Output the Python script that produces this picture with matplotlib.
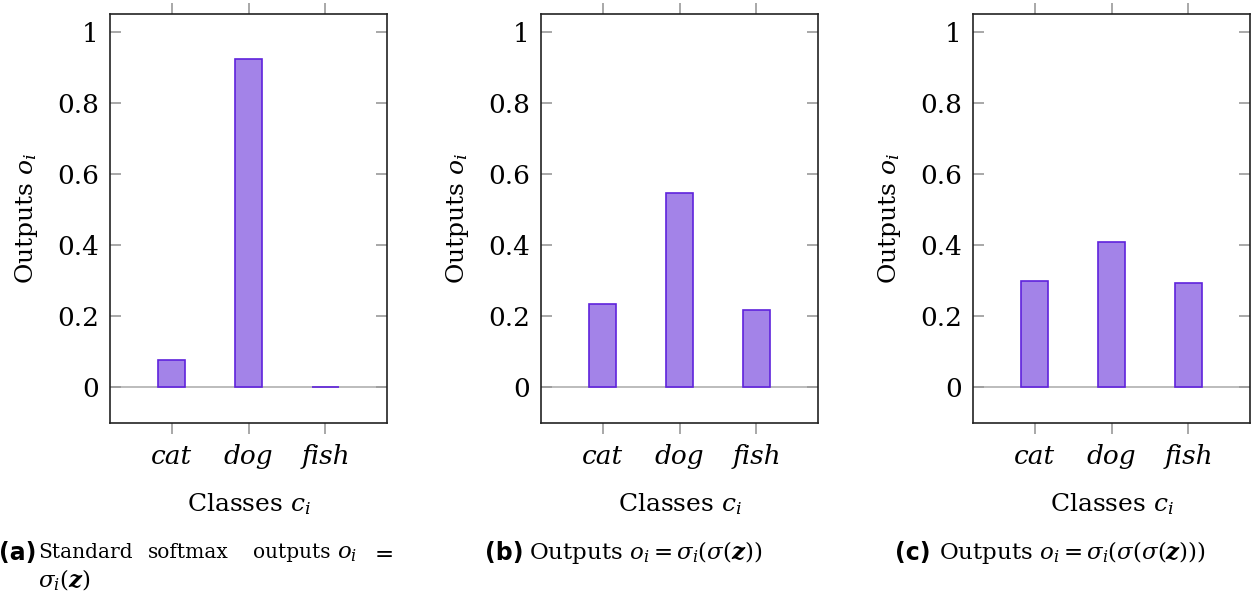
import matplotlib.pyplot as plt

plt.rcParams["font.family"] = "DejaVu Serif"
plt.rcParams["mathtext.fontset"] = "dejavuserif"

# Data
classes = ["cat", "dog", "fish"]
softmax_a = [0.076, 0.924, 0.001]
softmax_b = [0.236, 0.548, 0.219]
softmax_c = [0.298, 0.410, 0.293]
yticks = [0, 0.2, 0.4, 0.6, 0.8, 1]
ytick_labels = ["0", "0.2", "0.4", "0.6", "0.8", "1"]

fill_col = "#a383e8"
edge_col = "#5f22dc"
tick_col = "#9a9a9a"

fig = plt.figure(figsize=(12.56, 6.04), dpi=100)

lefts = [110 / 1256, 541 / 1256, 973 / 1256]
w = 277 / 1256
bottom = 1 - 423 / 604
h = 409 / 604

for left, vals in zip(lefts, [softmax_a, softmax_b, softmax_c]):
    ax = fig.add_axes([left, bottom, w, h])
    x = list(range(len(classes)))
    ax.axhline(0, color="#b0b0b0", lw=1.2, zorder=1)
    ax.bar(x, vals, width=0.36, color=fill_col, edgecolor=edge_col, lw=1.2, zorder=2)
    ax.set_xlim(-0.8, 2.8)
    ax.set_ylim(-0.1, 1.05)
    ax.set_xticks(x)
    ax.set_xticklabels(classes, style="italic", fontsize=19)
    ax.set_yticks(yticks)
    ax.set_yticklabels(ytick_labels, fontsize=19)
    ax.tick_params(axis="y", direction="in", length=8, width=1.2, color=tick_col,
                   left=True, right=True, pad=8)
    ax.tick_params(axis="x", direction="out", length=8, width=1.2, color=tick_col,
                   top=True, bottom=True, pad=7)
    for s in ax.spines.values():
        s.set_linewidth(1.2)
        s.set_color("#222222")
    ax.set_xlabel("Classes $c_i$", fontsize=18, labelpad=16)
    ax.set_ylabel("Outputs $o_i$", fontsize=18, labelpad=12)

# Captions
y1 = 1 - 553 / 604
y2 = 1 - 580 / 604
cap = 16.5
fig.text(-1 / 1256, y1, "(a)", family="DejaVu Sans", weight="bold", fontsize=17, va="center")
for xp, word, fs in [(38, "Standard", 14.5), (148, "softmax", 14.5), (253, "outputs", 14.5),
                     (337, "$o_i$", cap), (370, "$=$", cap)]:
    fig.text(xp / 1256, y1, word, fontsize=fs, va="center")
fig.text(38 / 1256, y2, r"$\sigma_i(\boldsymbol{z})$", fontsize=cap, va="center")

fig.text(485 / 1256, y1, "(b)", family="DejaVu Sans", weight="bold", fontsize=17, va="center")
fig.text(529 / 1256, y1, r"Outputs $o_i = \sigma_i(\sigma(\boldsymbol{z}))$",
         fontsize=cap, va="center")
fig.text(895 / 1256, y1, "(c)", family="DejaVu Sans", weight="bold", fontsize=17, va="center")
fig.text(939 / 1256, y1, r"Outputs $o_i = \sigma_i(\sigma(\sigma(\boldsymbol{z})))$",
         fontsize=cap, va="center")

fig.savefig("out.png", dpi=100)
